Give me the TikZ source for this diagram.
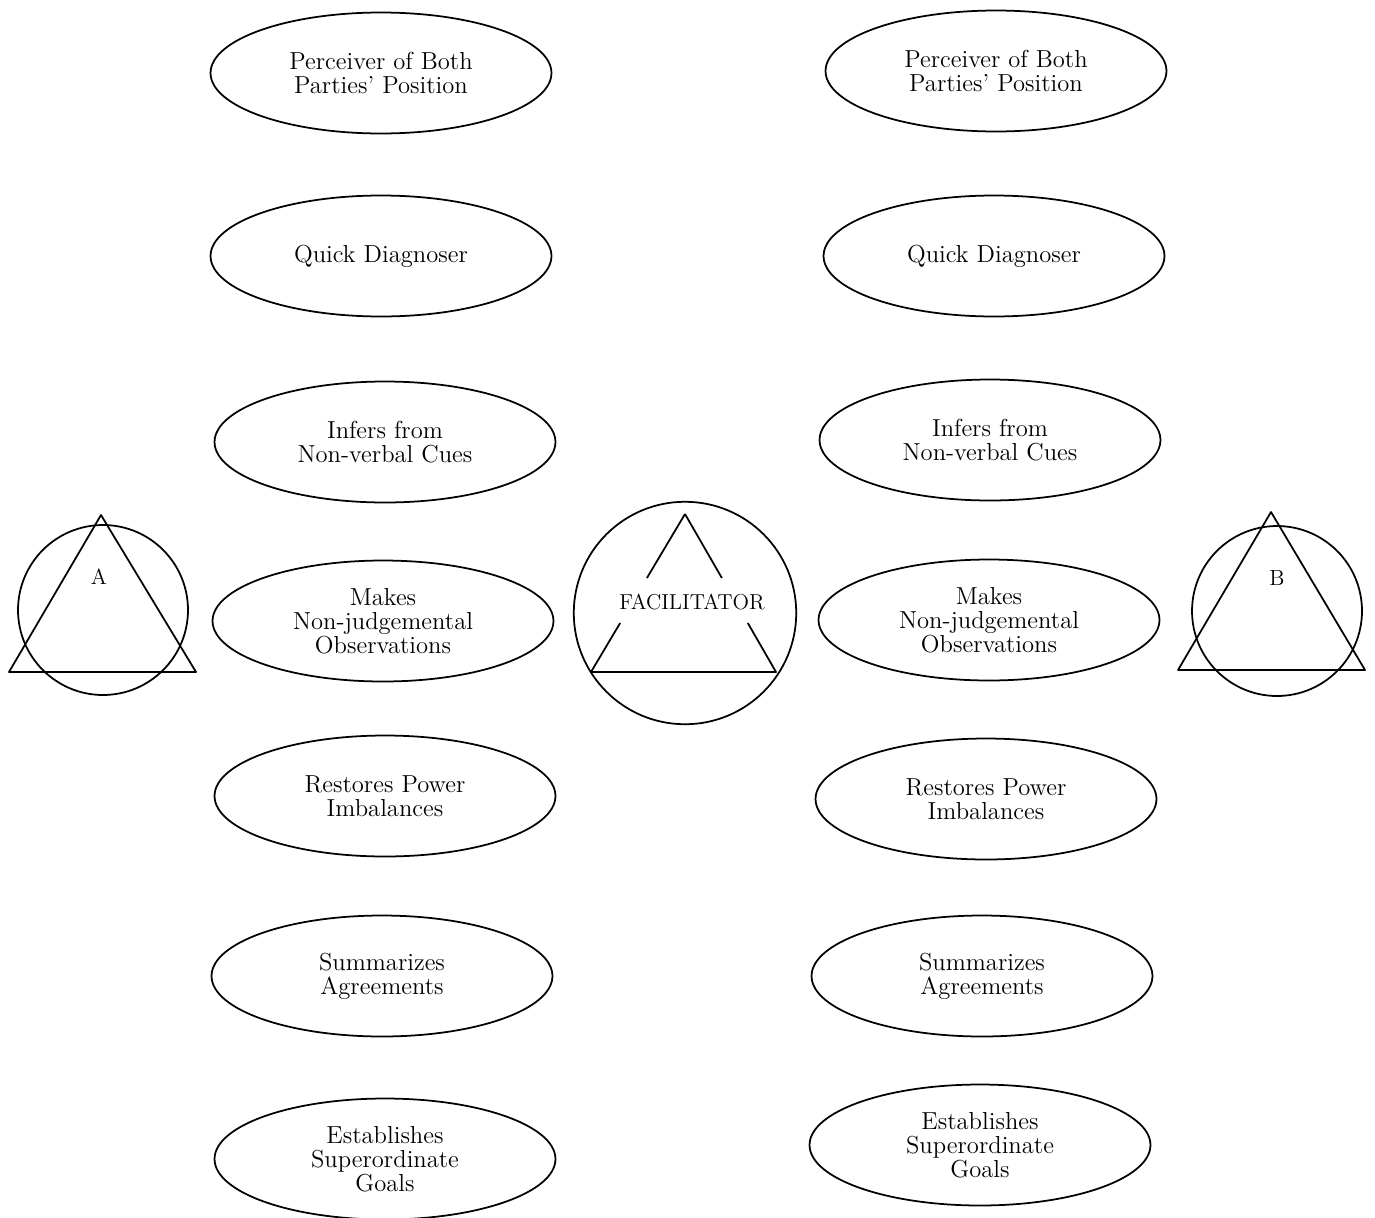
\documentclass[tikz,border=0pt]{standalone}
\usepackage{tikz}
\usetikzlibrary{shapes.geometric,calc}
\tikzset{
  trait/.style={ellipse,draw=black,line width=1pt,minimum width=6.82cm,minimum height=2.42cm,
    inner sep=0pt,align=center,font=\fontsize{14}{13.8}\selectfont},
  party/.style={circle,draw=black,line width=1pt,minimum size=3.4cm,inner sep=0pt},
  hub/.style={circle,draw=black,line width=1pt,minimum size=4.45cm,inner sep=0pt},
  lbl/.style={font=\fontsize{12.5}{14}\selectfont,inner sep=1pt},
  tri/.style={line width=1pt,line join=round}
}

\begin{document}
\begin{tikzpicture}[x=0.02cm,y=-0.02cm]
  \useasboundingbox (0,0) rectangle (1375,1217);

  % left column of traits
  \foreach \n/\x/\y/\txt in {
      1/381/73/{Perceiver of Both\\Parties' Position},
      2/381/256/{Quick Diagnoser},
      3/385/442/{Infers from\\Non-verbal Cues},
      4/383/621/{Makes\\Non-judgemental\\Observations},
      5/385/796/{Restores Power\\Imbalances},
      6/382/976/{Summarizes\\Agreements},
      7/385/1159/{Establishes\\Superordinate\\Goals}}{
    \node[trait] (l\n) at (\x,\y) {\txt};
  }

  % right column of traits
  \foreach \n/\x/\y/\txt in {
      1/996/71/{Perceiver of Both\\Parties' Position},
      2/994/256/{Quick Diagnoser},
      3/990/440/{Infers from\\Non-verbal Cues},
      4/989/620/{Makes\\Non-judgemental\\Observations},
      5/986/799/{Restores Power\\Imbalances},
      6/982/976/{Summarizes\\Agreements},
      7/980/1145/{Establishes\\Superordinate\\Goals}}{
    \node[trait] (r\n) at (\x,\y) {\txt};
  }

  % party A
  \node[party] (pa) at (103,610) {};
  \coordinate (aTop) at (101,515);
  \coordinate (aL) at (9,672);
  \coordinate (aR) at (196,672);
  \draw[tri] (aTop) -- (aL) -- (aR) -- cycle;
  \node[lbl] (la) at (99,577) {A};

  % party B
  \node[party] (pb) at (1277,611) {};
  \coordinate (bTop) at (1271,512);
  \coordinate (bL) at (1178,670);
  \coordinate (bR) at (1365,670);
  \draw[tri] (bTop) -- (bL) -- (bR) -- cycle;
  \node[lbl] (lb) at (1277,578) {B};

  % facilitator
  \node[hub] (fac) at (685,613) {};
  \coordinate (fTop) at (685,514);
  \coordinate (fL) at (591,672);
  \coordinate (fR) at (776,672);
  \draw[tri] (fTop) -- ($(fTop)!0.405!(fL)$);
  \draw[tri] ($(fTop)!0.69!(fL)$) -- (fL) -- (fR) -- ($(fTop)!0.69!(fR)$);
  \draw[tri] (fTop) -- ($(fTop)!0.405!(fR)$);
  \node[font=\fontsize{12.3}{14}\selectfont] (lf) at (692,602) {FACILITATOR};
\end{tikzpicture}
\end{document}
